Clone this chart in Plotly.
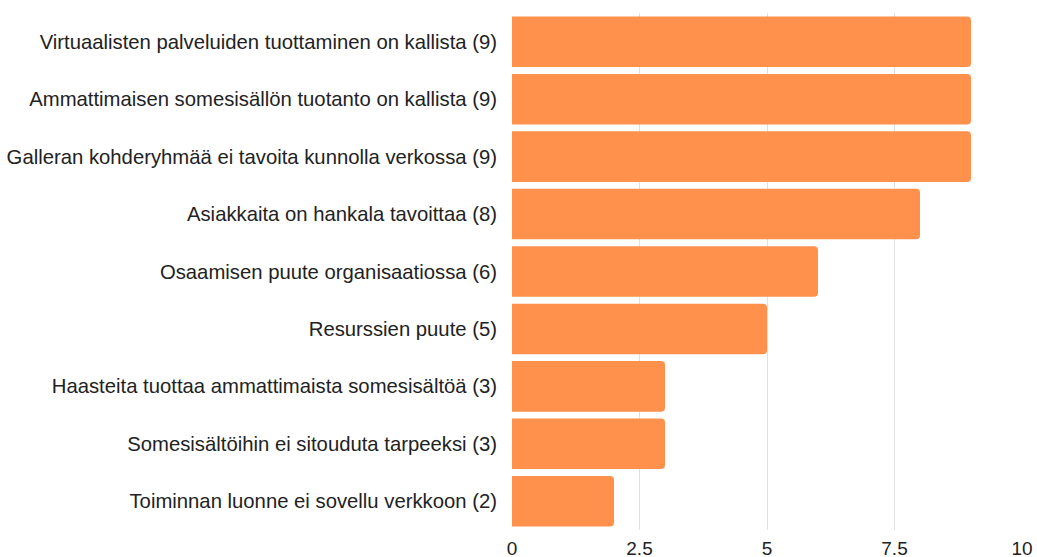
import plotly.graph_objects as go

categories = [
    "Virtuaalisten palveluiden tuottaminen on kallista (9)",
    "Ammattimaisen somesisällön tuotanto on kallista (9)",
    "Galleran kohderyhmää ei tavoita kunnolla verkossa (9)",
    "Asiakkaita on hankala tavoittaa (8)",
    "Osaamisen puute organisaatiossa (6)",
    "Resurssien puute (5)",
    "Haasteita tuottaa ammattimaista somesisältöä (3)",
    "Somesisältöihin ei sitouduta tarpeeksi (3)",
    "Toiminnan luonne ei sovellu verkkoon (2)",
]
values = [9, 9, 9, 8, 6, 5, 3, 3, 2]
tick_vals = [0, 2.5, 5, 7.5, 10]
tick_text = ["0", "2.5", "5", "7.5", "10"]

fig = go.Figure(
    go.Bar(
        x=values,
        y=categories,
        orientation="h",
        marker=dict(color="#FF914D", cornerradius=4, line=dict(width=0)),
        hoverinfo="x+y",
    )
)

fig.update_layout(
    width=1037,
    height=557,
    margin=dict(l=512, r=15, t=13, b=27, autoexpand=False),
    paper_bgcolor="white",
    plot_bgcolor="white",
    bargap=0.12,
    showlegend=False,
    font=dict(family="Liberation Sans, Arial, sans-serif", color="#222222"),
)
fig.update_xaxes(
    range=[0, 10],
    tickvals=tick_vals,
    ticktext=tick_text,
    showgrid=True,
    gridcolor="#E0E0E0",
    gridwidth=1,
    zeroline=False,
    showline=False,
    automargin=False,
    tickfont=dict(size=19, color="#222222"),
    ticklabelstandoff=5,
)
fig.update_yaxes(
    autorange="reversed",
    showgrid=False,
    showline=False,
    automargin=False,
    tickfont=dict(size=20.3, color="#222222"),
    ticklabelstandoff=14,
)

fig.write_html(
    "out.html",
    config={"displayModeBar": False},
    post_script="document.body.style.margin='0';document.body.style.overflow='hidden';",
)
